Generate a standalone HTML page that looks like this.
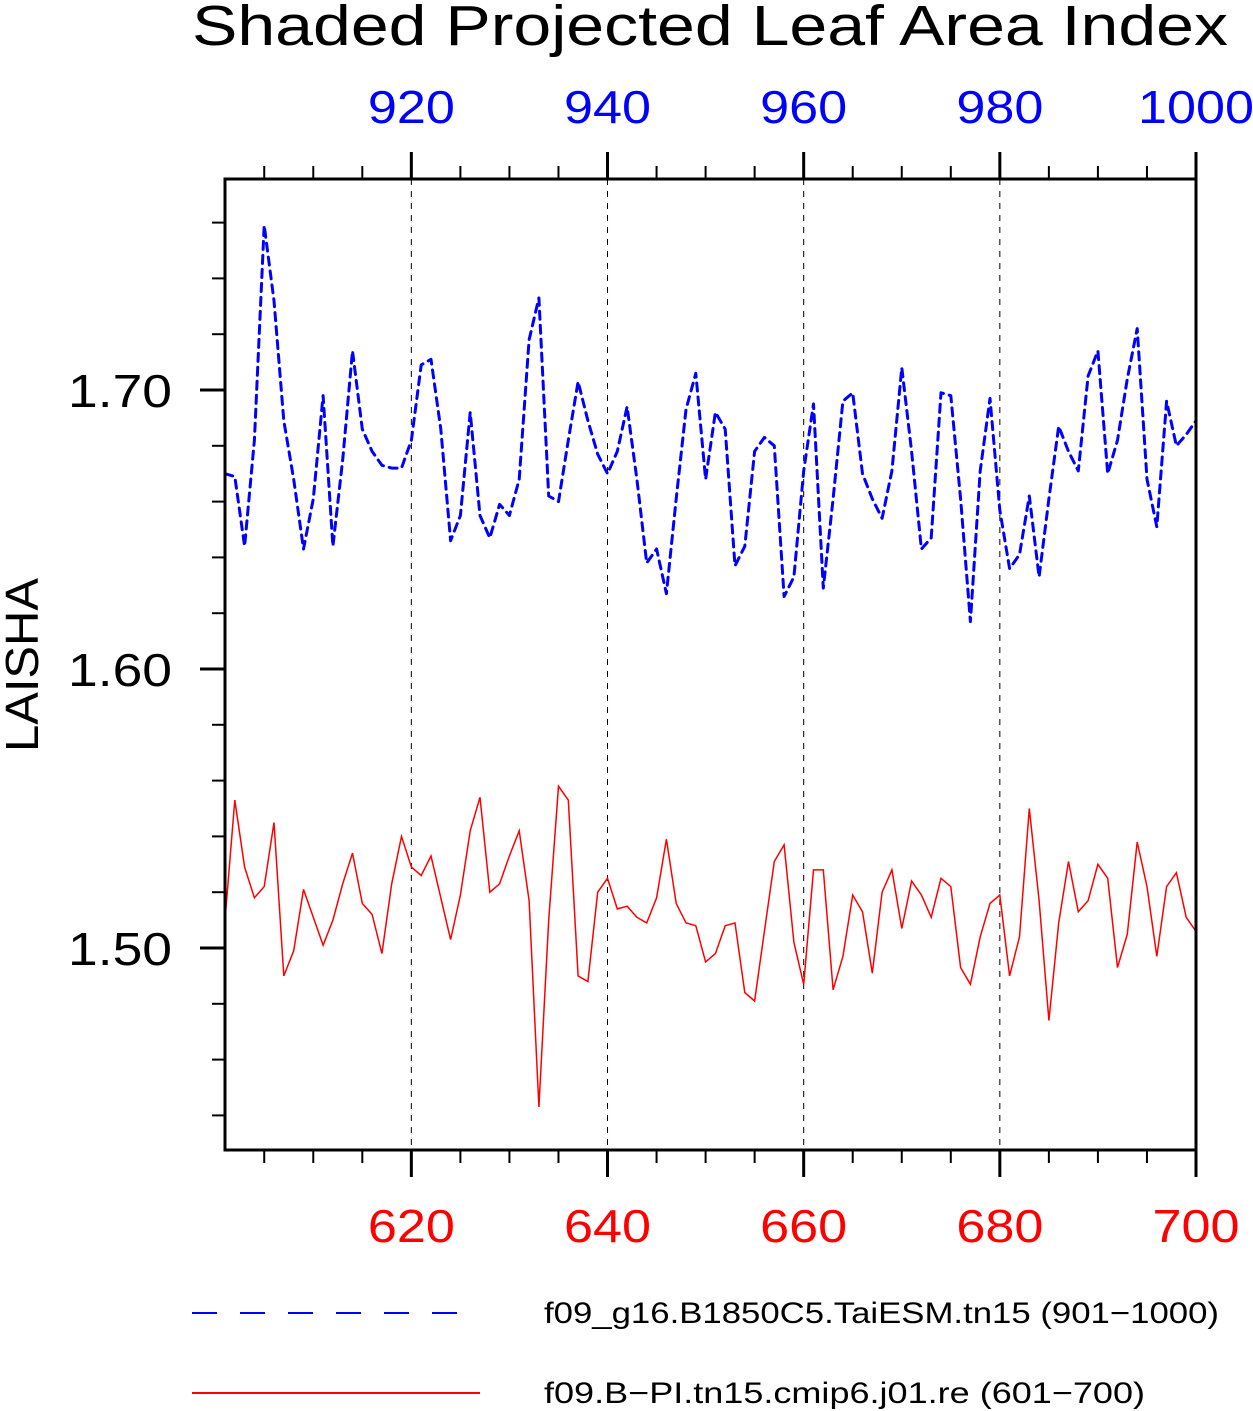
<!DOCTYPE html>
<html><head><meta charset="utf-8"><style>
html,body{margin:0;padding:0;background:#fff;}
svg{display:block;}
text{font-family:"Liberation Sans",sans-serif;font-weight:normal;}
</style></head><body>
<svg id="chart" width="1253" height="1411" viewBox="0 0 1253 1411" xmlns="http://www.w3.org/2000/svg">
<text x="192" y="45" font-size="57" textLength="1036" lengthAdjust="spacingAndGlyphs" fill="#000">Shaded Projected Leaf Area Index</text>
<text transform="translate(38,665) rotate(-90)" text-anchor="middle" font-size="46" textLength="174" lengthAdjust="spacingAndGlyphs" fill="#000">LAISHA</text>
<g id="grid"></g>
<g id="ticks"></g>
<g id="series"></g>
<rect x="225" y="179" width="971" height="971" fill="none" stroke="#000" stroke-width="3"/>
<g>
<line x1="192" y1="1313" x2="460" y2="1313" stroke="#0000ff" stroke-width="2" stroke-dasharray="25,23"/>
<text x="544" y="1323" font-size="30" textLength="675" lengthAdjust="spacingAndGlyphs">f09_g16.B1850C5.TaiESM.tn15 (901−1000)</text>
<line x1="192" y1="1393" x2="480" y2="1393" stroke="#ff0000" stroke-width="2"/>
<text x="544" y="1403" font-size="30" textLength="601" lengthAdjust="spacingAndGlyphs">f09.B−PI.tn15.cmip6.j01.re (601−700)</text>
</g>
</svg>
<script>
const bottomTickLabels = ["620","640","660","680","700"];
const topTickLabels = ["920","940","960","980","1000"];
const yTickLabels = ["1.50","1.60","1.70"];
const blueValues = [1.670,1.669,1.644,1.682,1.759,1.732,1.689,1.668,1.643,1.661,
1.698,1.644,1.675,1.714,1.686,1.678,1.673,1.672,1.672,1.682,
1.709,1.711,1.686,1.646,1.655,1.692,1.655,1.647,1.659,1.655,
1.668,1.718,1.733,1.662,1.660,1.682,1.703,1.689,1.677,1.670,
1.678,1.694,1.668,1.638,1.643,1.627,1.661,1.693,1.706,1.668,
1.692,1.686,1.637,1.644,1.678,1.683,1.680,1.626,1.633,1.671,
1.695,1.629,1.661,1.696,1.699,1.670,1.661,1.654,1.671,1.708,
1.678,1.643,1.647,1.699,1.698,1.661,1.617,1.671,1.697,1.657,
1.636,1.641,1.662,1.633,1.661,1.687,1.678,1.671,1.705,1.714,
1.670,1.682,1.704,1.722,1.668,1.651,1.696,1.680,1.684,1.689];
const redValues = [1.510,1.553,1.529,1.518,1.522,1.545,1.490,1.499,1.521,1.511,
1.501,1.510,1.523,1.534,1.516,1.512,1.498,1.523,1.540,1.529,
1.526,1.533,1.518,1.503,1.519,1.542,1.554,1.520,1.523,1.533,
1.542,1.517,1.443,1.510,1.558,1.553,1.490,1.488,1.520,1.525,
1.514,1.515,1.511,1.509,1.518,1.539,1.516,1.509,1.508,1.495,
1.498,1.508,1.509,1.484,1.481,1.506,1.531,1.537,1.502,1.487,
1.528,1.528,1.485,1.497,1.519,1.513,1.491,1.520,1.528,1.507,
1.524,1.519,1.511,1.525,1.522,1.493,1.487,1.504,1.516,1.519,
1.490,1.504,1.550,1.517,1.474,1.509,1.531,1.513,1.517,1.530,
1.525,1.493,1.505,1.538,1.522,1.497,1.522,1.527,1.511,1.506];

const NS = "http://www.w3.org/2000/svg";
const L = 225, R = 1196, T = 179, B = 1150;
const x0 = 601, x1 = 700;
const yMin = 1.50 - (B - 948) / 2790, yMax = 1.70 + (390 - T) / 2790;
function xPos(year) { return L + (year - x0) / (x1 - x0) * (R - L); }
function yPos(v) { return B - (v - yMin) / (yMax - yMin) * (B - T); }
function mk(tag, attrs, parent) {
  const e = document.createElementNS(NS, tag);
  for (const k in attrs) e.setAttribute(k, attrs[k]);
  parent.appendChild(e);
  return e;
}
const grid = document.getElementById('grid');
const ticks = document.getElementById('ticks');
const svg = document.getElementById('chart');
const series = document.getElementById('series');

for (let yr = 605; yr <= 700; yr += 5) {
  const x = xPos(yr);
  const major = (yr % 20 === 0);
  const tb = mk('line', {x1: x, x2: x, y1: B, y2: major ? B + 27 : B + 13, stroke: '#000', 'stroke-width': major ? 3 : 2}, ticks);
  
  
  const tt = mk('line', {x1: x, x2: x, y1: T, y2: major ? T - 27 : T - 13, stroke: '#000', 'stroke-width': major ? 3 : 2}, ticks);
  
  
}
bottomTickLabels.forEach((lab, i) => {
  const yr = 620 + i * 20;
  const x = xPos(yr);
  if (yr < 700) {
    const g = mk('line', {x1: x, x2: x, y1: T, y2: B, stroke: '#000', 'stroke-width': 1, 'stroke-dasharray': '6,6'}, grid);
    
    
  }
  const t = mk('text', {x: x, y: 1242, 'text-anchor': 'middle', 'font-size': 46, fill: '#ff0000', textLength: lab.length * 29, lengthAdjust: 'spacingAndGlyphs'}, svg);
  t.textContent = lab;
  
  
  const lab2 = topTickLabels[i];
  const t2 = mk('text', {x: x, y: 123, 'text-anchor': 'middle', 'font-size': 46, fill: '#0000ff', textLength: lab2.length * 29, lengthAdjust: 'spacingAndGlyphs'}, svg);
  t2.textContent = lab2;
  
  
});
for (let k = 0; k < 20; k++) {
  const v = 1.44 + k * 0.02;
  if (v > yMax) break;
  const y = yPos(v);
  const major = (k % 5 === 3);
  const ty = mk('line', {x1: L, x2: major ? L - 25 : L - 13, y1: y, y2: y, stroke: '#000', 'stroke-width': major ? 3 : 2}, ticks);
  
  
}
yTickLabels.forEach(lab => {
  const t = mk('text', {x: 172, y: yPos(parseFloat(lab)) + 17, 'text-anchor': 'end', 'font-size': 46, fill: '#000', textLength: 104, lengthAdjust: 'spacingAndGlyphs'}, svg);
  t.textContent = lab;
  
  
});
function pts(vals) { return vals.map((v, i) => xPos(x0 + i).toFixed(1) + ',' + yPos(v).toFixed(1)).join(' '); }
const blue = mk('polyline', {points: pts(blueValues), fill: 'none', stroke: '#0000ff', 'stroke-width': 3, 'stroke-dasharray': '8,6', 'stroke-linecap': 'round', 'stroke-linejoin': 'round'}, series);


const red = mk('polyline', {points: pts(redValues), fill: 'none', stroke: '#ff0000', 'stroke-width': 1.5}, series);


</script>
</body></html>
